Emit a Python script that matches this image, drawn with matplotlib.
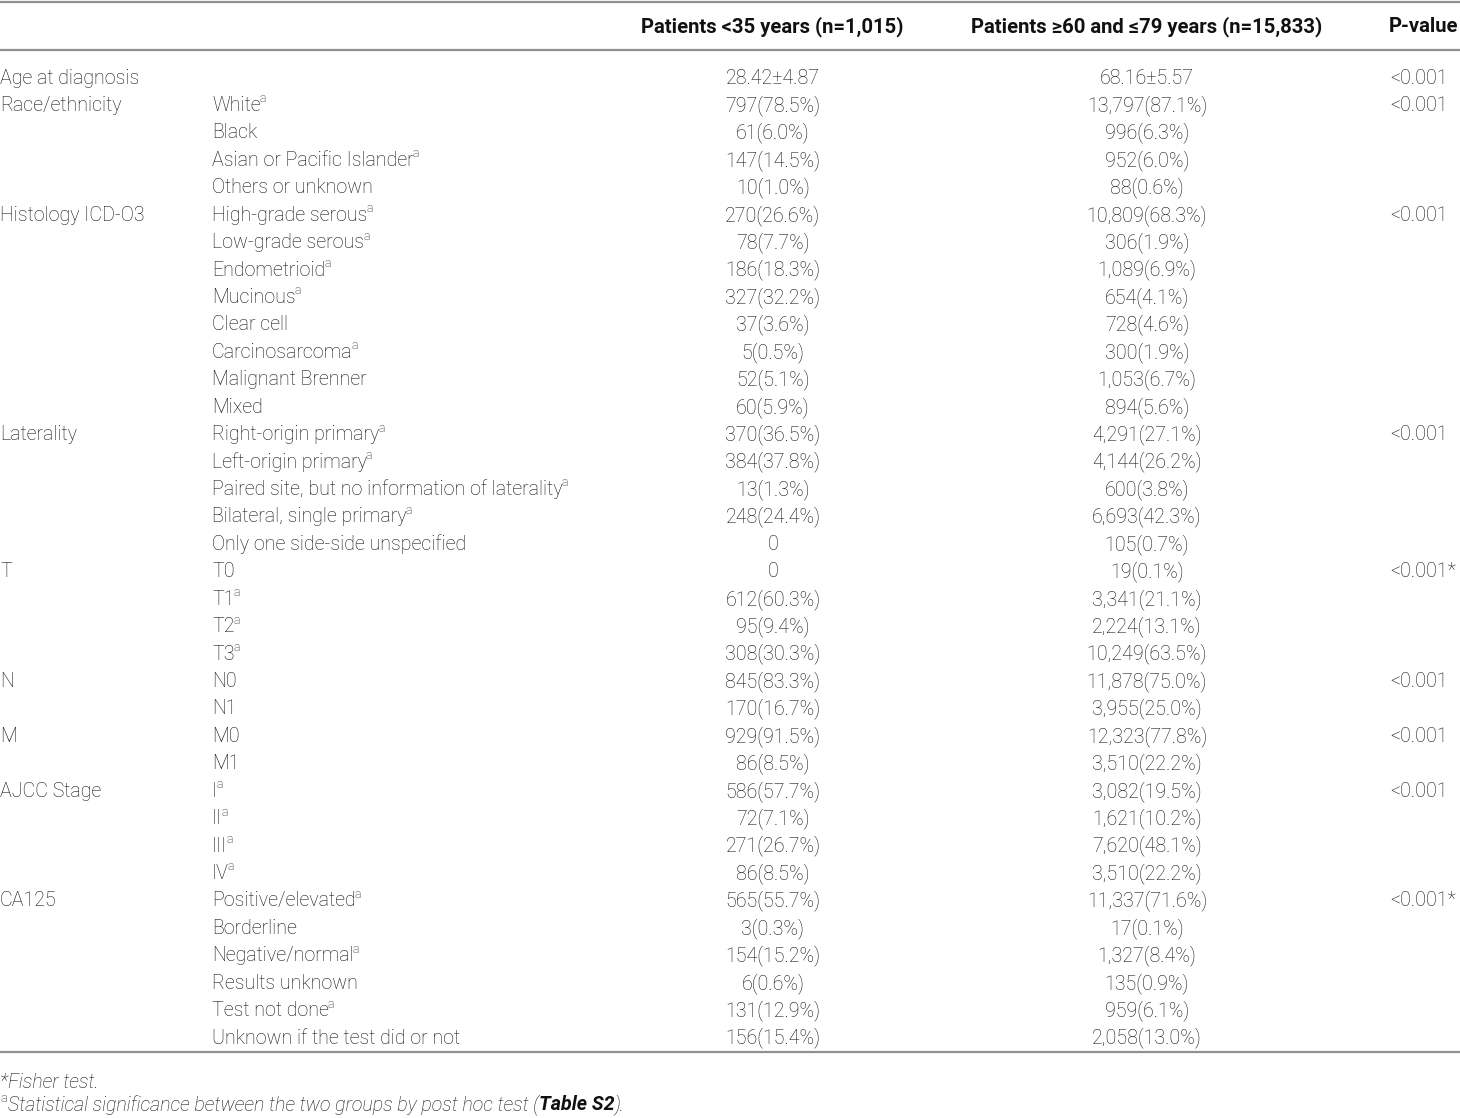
import matplotlib
matplotlib.use('Agg')
import matplotlib.pyplot as plt

# table content
headers = ['Patients <35 years (n=1,015)', 'Patients \u226560 and \u226479 years (n=15,833)', 'P-value']

groups = ['Age at diagnosis', 'Race/ethnicity', '', '', '',
          'Histology ICD-O3', '', '', '', '', '', '', '',
          'Laterality', '', '', '', '',
          'T', '', '', '', 'N', '', 'M', '',
          'AJCC Stage', '', '', '',
          'CA125', '', '', '', '', '']
items = ['', 'White', 'Black', 'Asian or Pacific Islander', 'Others or unknown',
         'High-grade serous', 'Low-grade serous', 'Endometrioid', 'Mucinous', 'Clear cell',
         'Carcinosarcoma', 'Malignant Brenner', 'Mixed',
         'Right-origin primary', 'Left-origin primary', 'Paired site, but no information of laterality',
         'Bilateral, single primary', 'Only one side-side unspecified',
         'T0', 'T1', 'T2', 'T3', 'N0', 'N1', 'M0', 'M1',
         'I', 'II', 'III', 'IV',
         'Positive/elevated', 'Borderline', 'Negative/normal', 'Results unknown', 'Test not done',
         'Unknown if the test did or not']
sup_a = [0, 1, 0, 1, 0,
         1, 1, 1, 1, 0, 1, 0, 0,
         1, 1, 1, 1, 0,
         0, 1, 1, 1, 0, 0, 0, 0,
         1, 1, 1, 1,
         1, 0, 1, 0, 1, 0]
young = ['28.42\u00b14.87', '797(78.5%)', '61(6.0%)', '147(14.5%)', '10(1.0%)',
         '270(26.6%)', '78(7.7%)', '186(18.3%)', '327(32.2%)', '37(3.6%)', '5(0.5%)',
         '52(5.1%)', '60(5.9%)',
         '370(36.5%)', '384(37.8%)', '13(1.3%)', '248(24.4%)', '0',
         '0', '612(60.3%)', '95(9.4%)', '308(30.3%)', '845(83.3%)', '170(16.7%)',
         '929(91.5%)', '86(8.5%)',
         '586(57.7%)', '72(7.1%)', '271(26.7%)', '86(8.5%)',
         '565(55.7%)', '3(0.3%)', '154(15.2%)', '6(0.6%)', '131(12.9%)', '156(15.4%)']
old = ['68.16\u00b15.57', '13,797(87.1%)', '996(6.3%)', '952(6.0%)', '88(0.6%)',
       '10,809(68.3%)', '306(1.9%)', '1,089(6.9%)', '654(4.1%)', '728(4.6%)', '300(1.9%)',
       '1,053(6.7%)', '894(5.6%)',
       '4,291(27.1%)', '4,144(26.2%)', '600(3.8%)', '6,693(42.3%)', '105(0.7%)',
       '19(0.1%)', '3,341(21.1%)', '2,224(13.1%)', '10,249(63.5%)', '11,878(75.0%)',
       '3,955(25.0%)', '12,323(77.8%)', '3,510(22.2%)',
       '3,082(19.5%)', '1,621(10.2%)', '7,620(48.1%)', '3,510(22.2%)',
       '11,337(71.6%)', '17(0.1%)', '1,327(8.4%)', '135(0.9%)', '959(6.1%)', '2,058(13.0%)']
pvals = ['<0.001', '<0.001', '', '', '',
         '<0.001', '', '', '', '', '', '', '',
         '<0.001', '', '', '', '',
         '<0.001*', '', '', '', '<0.001', '', '<0.001', '',
         '<0.001', '', '', '',
         '<0.001*', '', '', '', '', '']

W, H = 1460, 1118
fs = 14.1
fs_head = 14.6
fam = ['Roboto', 'DejaVu Sans']
txtcol = '#111111'

fig = plt.figure(figsize=(W / 100, H / 100), dpi=100)
ax = fig.add_axes([0, 0, 1, 1])
ax.set_xlim(0, W)
ax.set_ylim(H, 0)
ax.axis('off')
fig.canvas.draw()
renderer = fig.canvas.get_renderer()


def put_runs(x, y, runs, **kw):
    # draw consecutive text pieces left to right, measuring each one
    for s, opts in runs:
        o = dict(kw)
        o.update(opts)
        dy = o.pop('dy', 0)
        dx = o.pop('dx', 0)
        t = ax.text(x + dx, y + dy, s, va='center', ha='left', **o)
        bb = t.get_window_extent(renderer=renderer)
        x += bb.width + dx
    return x


# rules
for yl in [2, 50, 1052]:
    ax.plot([0, W], [yl, yl], color='#909090', lw=1.6, solid_capstyle='butt')

# header
hy = 27
hkw = dict(va='center', fontsize=fs_head, fontweight='bold', family=fam, color=txtcol)
ax.text(772, hy, headers[0], ha='center', **hkw)
ax.text(1147, hy, headers[1], ha='center', **hkw)
ax.text(1458, hy, headers[2], ha='right', **hkw)

y0 = 78
dy = 27.43
base = dict(fontsize=fs, family=fam, color=txtcol, fontweight='light')
sup = {'fontsize': fs * 0.62, 'dy': -6.5, 'dx': -1}
for i in range(len(items)):
    y = y0 + i * dy
    if groups[i]:
        ax.text(0, y, groups[i], ha='left', va='center', **base)
    if items[i]:
        runs = [(items[i], {})]
        if sup_a[i]:
            runs.append(('a', sup))
        put_runs(212, y, runs, **base)
    ax.text(773, y, young[i], ha='center', va='center', **base)
    ax.text(1147, y, old[i], ha='center', va='center', **base)
    if pvals[i]:
        ax.text(1390, y, pvals[i], ha='left', va='center', **base)

# footnotes
foot = dict(fontsize=fs, family=fam, color=txtcol, fontweight='light', style='italic')
put_runs(0, 1083, [('*Fisher test.', {})], **foot)
put_runs(0, 1105, [('a', {'fontsize': fs * 0.68, 'dy': -6, 'style': 'normal'}),
                   ('Statistical significance between the two groups by post hoc test (', {'dx': 1}),
                   ('Table S2', {'fontweight': 'bold'}),
                   (').', {})], **foot)

fig.savefig('out.png', dpi=100)
